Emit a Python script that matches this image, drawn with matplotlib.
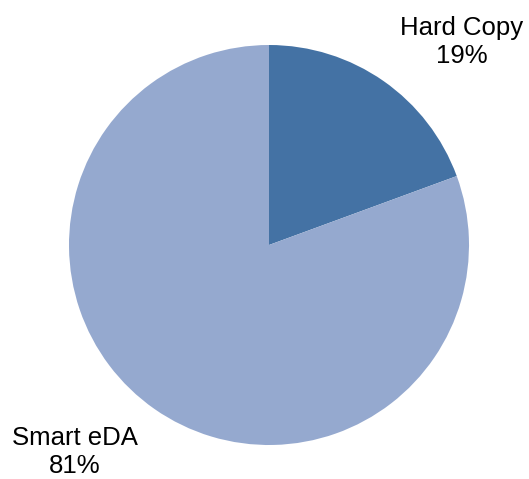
import matplotlib
matplotlib.use("Agg")
import matplotlib.pyplot as plt

categories = ["Hard Copy", "Smart eDA"]
values = [19.4, 80.6]
colors = ["#4472A4", "#95A9CF"]
labels = [f"{c}\n{round(v)}%" for c, v in zip(categories, values)]

W, H = 529, 479
fig = plt.figure(figsize=(W / 100, H / 100), dpi=100)
ax = fig.add_axes([0, 0, 1, 1])

ax.pie(values, colors=colors, startangle=90, counterclock=False,
       center=(269, H - 245), radius=200, frame=True,
       wedgeprops=dict(linewidth=0))
ax.set_xlim(0, W)
ax.set_ylim(0, H)
ax.set_aspect("equal")
ax.axis("off")

ax.text(462, H - 42, labels[0], ha="center", va="center", fontsize=18.5,
        family="Liberation Sans", linespacing=1.22, color="#000000")
ax.text(75, H - 452, labels[1], ha="center", va="center", fontsize=18.5,
        family="Liberation Sans", linespacing=1.22, color="#000000")

fig.savefig("out.png", dpi=100)
